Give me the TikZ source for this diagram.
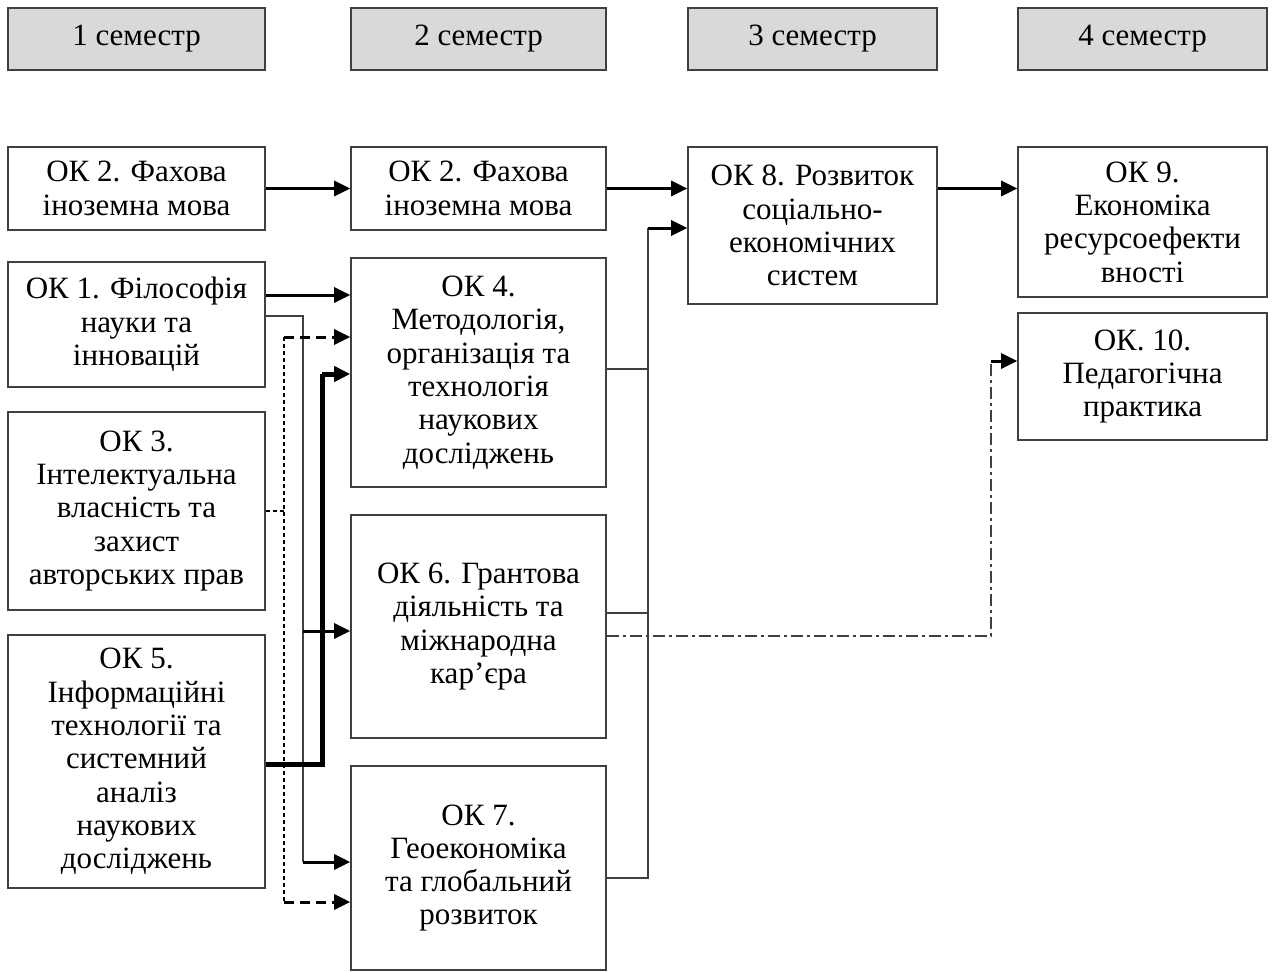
\documentclass[tikz,border=0pt]{standalone}
\usepackage{fontspec}
\setmainfont{Liberation Serif}
\usetikzlibrary{arrows.meta,calc}
\definecolor{boxline}{HTML}{404040}
\definecolor{headfill}{HTML}{D9D9D9}
\begin{document}
\begin{tikzpicture}[x=1pt,y=-1pt,
  box/.style={draw=boxline,line width=1.6pt,align=center,inner sep=0pt,
    font=\fontsize{31}{33.3}\selectfont},
  head/.style={box,fill=headfill},
  tip/.style={-{Triangle[length=16pt,width=15pt]}},
  thinl/.style={draw=boxline,line width=1.5pt},
  medl/.style={draw=black,line width=3pt},
  thickl/.style={draw=black,line width=5pt},
  dthin/.style={draw=black,line width=1.3pt,dash pattern=on 4pt off 3pt},
  dmed/.style={draw=black,line width=3pt,dash pattern=on 10pt off 6pt},
  ddot/.style={draw=boxline,line width=1.6pt,dash pattern=on 12pt off 4pt on 3pt off 4pt}]
\useasboundingbox (0,0) rectangle (1273,972);
% headers
\node[head,minimum width=257pt,minimum height=62pt] (h1) at (136.5,39) {1 семестр};
\node[head,minimum width=255pt,minimum height=62pt] (h2) at (478.5,39) {2 семестр};
\node[head,minimum width=249pt,minimum height=62pt] (h3) at (812.5,39) {3 семестр};
\node[head,minimum width=249pt,minimum height=62pt] (h4) at (1142.5,39) {4 семестр};
% column 1
\node[box,minimum width=257pt,minimum height=83pt] (a2) at (136.5,188.5) {ОК 2. Фахова\\іноземна мова};
\node[box,minimum width=257pt,minimum height=125pt] (a1) at (136.5,324.5) {ОК 1. Філософія\\науки та\\інновацій};
\node[box,minimum width=257pt,minimum height=198pt] (a3) at (136.5,511) {ОК 3.\\Інтелектуальна\\власність та\\захист\\авторських прав};
\node[box,minimum width=257pt,minimum height=253pt] (a5) at (136.5,761.5) {ОК 5.\\Інформаційні\\технології та\\системний\\аналіз\\наукових\\досліджень};
% column 2
\node[box,minimum width=255pt,minimum height=83pt] (b2) at (478.5,188.5) {ОК 2. Фахова\\іноземна мова};
\node[box,minimum width=255pt,minimum height=229pt] (b4) at (478.5,372.5) {ОК 4.\\Методологія,\\організація та\\технологія\\наукових\\досліджень};
\node[box,minimum width=255pt,minimum height=223pt] (b6) at (478.5,626.5) {ОК 6. Грантова\\діяльність та\\міжнародна\\кар’єра};
\node[box,minimum width=255pt,minimum height=204pt] (b7) at (478.5,868) {ОК 7.\\Геоекономіка\\та глобальний\\розвиток};
% column 3
\node[box,minimum width=249pt,minimum height=157pt] (c8) at (812.5,225.5) {ОК 8. Розвиток\\соціально-\\економічних\\систем};
% column 4
\node[box,minimum width=249pt,minimum height=150pt] (d9) at (1142.5,222) {ОК 9.\\Економіка\\ресурсоефекти\\вності};
\node[box,minimum width=249pt,minimum height=127pt] (d10) at (1142.5,376.5) {ОК. 10.\\Педагогічна\\практика};
% junction coordinates
\coordinate (j1t) at (303,316);
\coordinate (j1m) at (303,631);
\coordinate (j1b) at (303,862);
\coordinate (j3m) at (284,511);
\coordinate (j3t) at (284,337);
\coordinate (j3b) at (284,902);
\coordinate (j5b) at (322,764);
\coordinate (j5t) at (322,374);
\coordinate (j8b) at (648,878);
\coordinate (j8t) at (648,228);
\coordinate (jdb) at (991,636);
\coordinate (jdt) at (991,361);
% top row arrows
\draw[medl,tip] (a2.east) -- (b2.west);
\draw[medl,tip] (b2.east) -- (b2.east -| c8.west);
\draw[medl,tip] (c8.east |- b2.east) -- (b2.east -| d9.west);
% OK1
\draw[medl,tip] ([yshift=29.5pt]a1.east) coordinate (p1) -- (p1 -| b4.west);
\draw[thinl] (a1.east |- j1t) -- (j1t) -- (j1b);
\draw[medl,tip] (j1b) -- (j1b -| b7.west);
\draw[medl,tip] (j1m) -- (j1m -| b6.west);
% OK3 dashed
\draw[dthin] (a3.east |- j3m) -- (j3m);
\draw[dthin] (j3t) -- (j3b);
\draw[dmed,tip] (j3t) -- (j3t -| b4.west);
\draw[dmed,tip] (j3b) -- (j3b -| b7.west);
% OK5 thick
\draw[thickl] (a5.east |- j5b) -- (j5b) -- (j5t);
\draw[thickl,tip] (j5t) -- (j5t -| b4.west);
% column 2 to OK8
\draw[thinl] (b4.east |- 0,369) -- (648,369);
\draw[thinl] (b6.east |- 0,613) -- (648,613);
\draw[thinl] (b7.east |- j8b) -- (j8b) -- (j8t);
\draw[medl,tip] (j8t) -- (j8t -| c8.west);
% dash-dot to OK10
\draw[ddot] (b6.east |- jdb) -- (jdb) -- (jdt);
\draw[medl,tip] (jdt) -- (jdt -| d10.west);
\end{tikzpicture}
\end{document}
